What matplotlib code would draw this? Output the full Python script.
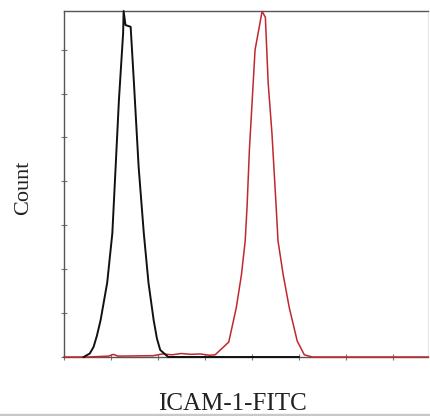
import matplotlib
matplotlib.use("Agg")
import matplotlib.pyplot as plt
from matplotlib.patches import Rectangle

# isotype control (black) histogram, channel vs count
ctrl_x = [0.42, 0.55, 0.63, 0.70, 0.78, 0.92, 1.03, 1.10, 1.17, 1.26, 1.27, 1.31, 1.42,
          1.49, 1.59, 1.70, 1.80, 1.91, 1.98, 2.05, 2.22, 3.5, 5.0]
ctrl_y = [0.0, 0.08, 0.23, 0.48, 0.84, 1.69, 2.82, 4.33, 5.85, 7.38, 7.88, 7.56, 7.52,
          6.24, 4.33, 2.82, 1.69, 0.84, 0.42, 0.16, 0.0, 0.0, 0.0]

# ICAM-1 stained (red) histogram
icam_x = [0.0, 0.5, 0.95, 1.05, 1.15, 1.9, 2.1, 2.3, 2.5, 2.7, 2.9, 3.1,
          3.22, 3.51, 3.67, 3.78, 3.86, 3.90, 3.95, 4.01, 4.07, 4.22, 4.29,
          4.35, 4.43, 4.52, 4.56, 4.67, 4.80, 4.97, 5.12, 5.29, 7.76]
icam_y = [0.0, 0.0, 0.02, 0.06, 0.02, 0.03, 0.07, 0.05, 0.08, 0.06, 0.07, 0.04,
          0.05, 0.34, 1.12, 1.87, 2.64, 3.42, 4.72, 5.85, 6.99, 7.87, 7.74,
          6.24, 5.10, 3.42, 2.64, 1.87, 1.12, 0.36, 0.05, 0.0, 0.0]

x_ticks = list(range(0, 8))
y_ticks = list(range(0, 8))

fig = plt.figure(figsize=(4.3, 4.16), dpi=100)
ax = fig.add_axes([64 / 430, 1 - 357 / 416, 364 / 430, 346 / 416])

ax.plot(icam_x, icam_y, color="#c0282d", lw=1.1, clip_on=False, zorder=3)
ax.plot(ctrl_x, ctrl_y, color="#111111", lw=1.4, clip_on=False, zorder=4)

ax.set_xlim(0, 7.755)
ax.set_ylim(0, 7.88)
ax.set_xticks(x_ticks)
ax.set_yticks(y_ticks)
ax.set_xticklabels([])
ax.set_yticklabels([])
ax.tick_params(direction="inout", length=4, width=0.8, color="#777777")

for side in ["top", "left", "bottom"]:
    ax.spines[side].set_color("#555555")
    ax.spines[side].set_linewidth(1.0)
ax.spines["right"].set_color("#e6e6e6")

serif = ["Liberation Serif", "DejaVu Serif"]
fig.text(24 / 430, 1 - 187.5 / 416, "Count", rotation=90, ha="center", va="center",
         fontsize=16, family=serif, color="#222222")
fig.text(232 / 430, 1 - 410 / 416, "ICAM-1-FITC", ha="center", va="baseline",
         fontsize=18, family=serif, color="#222222")

fig.patches.append(Rectangle((0, 0), 1, 2.5 / 416, transform=fig.transFigure,
                             color="#c8c8c8", zorder=10))

fig.savefig("out.png", dpi=100)
